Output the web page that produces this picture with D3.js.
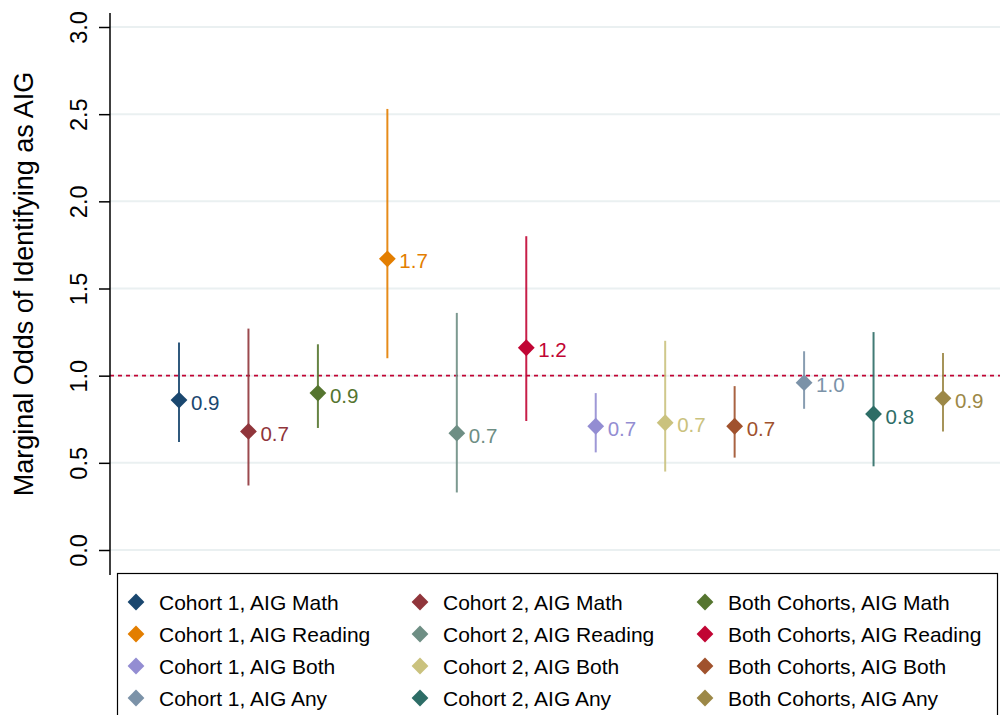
<!DOCTYPE html>
<html>
<head>
<meta charset="utf-8">
<script src="https://cdn.jsdelivr.net/npm/d3@7"></script>
<style>
  html, body { margin: 0; padding: 0; background: #fff; }
  svg { display: block; font-family: "Liberation Sans", Arial, sans-serif; }
</style>
</head>
<body>
<svg id="chart" width="1000" height="715"></svg>
<script>
// Marginal odds estimates with 95% confidence intervals
const groups = [
  "Cohort 1, AIG Math", "Cohort 2, AIG Math", "Both Cohorts, AIG Math",
  "Cohort 1, AIG Reading", "Cohort 2, AIG Reading", "Both Cohorts, AIG Reading",
  "Cohort 1, AIG Both", "Cohort 2, AIG Both", "Both Cohorts, AIG Both",
  "Cohort 1, AIG Any", "Cohort 2, AIG Any", "Both Cohorts, AIG Any"
];
const estimates = [0.86, 0.68, 0.90, 1.67, 0.67, 1.16, 0.71, 0.73, 0.71, 0.96, 0.78, 0.87];
const ciLower   = [0.62, 0.37, 0.70, 1.10, 0.33, 0.74, 0.56, 0.45, 0.53, 0.81, 0.48, 0.68];
const ciUpper   = [1.19, 1.27, 1.18, 2.53, 1.36, 1.80, 0.90, 1.20, 0.94, 1.14, 1.25, 1.13];
const colors = [
  "#1a476f", "#90353b", "#55752f",
  "#e37e00", "#6e8e84", "#c10534",
  "#938dd2", "#cac27e", "#a0522d",
  "#7b92a8", "#2d6d66", "#9c8847"
];
const yTicks = [0, 0.5, 1.0, 1.5, 2.0, 2.5, 3.0];
const referenceOdds = 1.0;
const yTitle = "Marginal Odds of Identifying as AIG";

const svg = d3.select("#chart");
const plotLeft = 110, plotRight = 1000;

const x = d3.scalePoint()
  .domain(groups)
  .range([179, 943]);

const y = d3.scaleLinear()
  .domain([0, 3])
  .range([550, 27]);

// gridlines
svg.append("g")
  .selectAll("line")
  .data(yTicks)
  .join("line")
  .attr("x1", plotLeft).attr("x2", plotRight)
  .attr("y1", d => y(d)).attr("y2", d => y(d))
  .attr("stroke", "#eaf0f1")
  .attr("stroke-width", 2);

// reference line at odds = 1
svg.append("line")
  .attr("x1", plotLeft).attr("x2", plotRight)
  .attr("y1", y(referenceOdds)).attr("y2", y(referenceOdds))
  .attr("stroke", "#c10534")
  .attr("stroke-width", 1.8)
  .attr("stroke-dasharray", "4,4");

// y axis
const yAxis = d3.axisLeft(y)
  .tickValues(yTicks)
  .tickFormat(d3.format(".1f"))
  .tickSize(11)
  .tickSizeOuter(0)
  .tickPadding(0);

const axisG = svg.append("g")
  .attr("transform", `translate(${plotLeft},0)`)
  .call(yAxis);
axisG.select(".domain").remove();
axisG.append("line")
  .attr("x1", 0).attr("x2", 0)
  .attr("y1", 13).attr("y2", 575)
  .attr("stroke", "#000")
  .attr("stroke-width", 1.5);
axisG.selectAll(".tick line").attr("stroke", "#000").attr("stroke-width", 1.5);
axisG.selectAll(".tick text")
  .attr("font-size", 23.5)
  .attr("fill", "#000")
  .attr("text-anchor", "middle")
  .attr("x", 0).attr("dy", 0)
  .attr("transform", "translate(-31,0) rotate(-90)")
  .attr("dominant-baseline", "central");

// axis title
svg.append("text")
  .attr("transform", `translate(24,284) rotate(-90)`)
  .attr("text-anchor", "middle")
  .attr("dominant-baseline", "central")
  .attr("font-size", 27)
  .attr("fill", "#000")
  .text(yTitle);

const diamond = d3.symbol().type(d3.symbolDiamond2).size(180);

const pts = svg.append("g")
  .selectAll("g")
  .data(groups.map((g, i) => ({ g, i })))
  .join("g");

// confidence intervals
pts.append("line")
  .attr("x1", d => x(d.g)).attr("x2", d => x(d.g))
  .attr("y1", d => y(ciLower[d.i])).attr("y2", d => y(ciUpper[d.i]))
  .attr("stroke", d => colors[d.i])
  .attr("stroke-opacity", 0.9)
  .attr("stroke-width", 2);

// point estimates
pts.append("path")
  .attr("d", diamond)
  .attr("transform", d => `translate(${x(d.g)},${y(estimates[d.i])})`)
  .attr("fill", d => colors[d.i]);

// value labels
pts.append("text")
  .attr("x", d => x(d.g) + 12)
  .attr("y", d => y(estimates[d.i]) + 2)
  .attr("dominant-baseline", "central")
  .attr("font-size", 20.5)
  .attr("fill", d => colors[d.i])
  .text(d => d3.format(".1f")(estimates[d.i]));

// legend
const legend = svg.append("g");
legend.append("rect")
  .attr("x", 117.5).attr("y", 573.5)
  .attr("width", 880).attr("height", 160)
  .attr("fill", "#fff")
  .attr("stroke", "#000")
  .attr("stroke-width", 1.2);

const colX = [136, 420, 705];
const rowY = [602, 634, 666, 698];
const legendDiamond = d3.symbol().type(d3.symbolDiamond2).size(180);
const items = legend.selectAll("g.item")
  .data(groups.map((g, i) => ({ g, i })))
  .join("g")
  .attr("class", "item")
  .attr("transform", d => `translate(${colX[d.i % 3]},${rowY[Math.floor(d.i / 3)]})`);
items.append("path")
  .attr("d", legendDiamond)
  .attr("fill", d => colors[d.i]);
items.append("text")
  .attr("x", 23)
  .attr("dominant-baseline", "central")
  .attr("font-size", 21)
  .attr("fill", "#000")
  .text(d => d.g);
</script>
</body>
</html>
